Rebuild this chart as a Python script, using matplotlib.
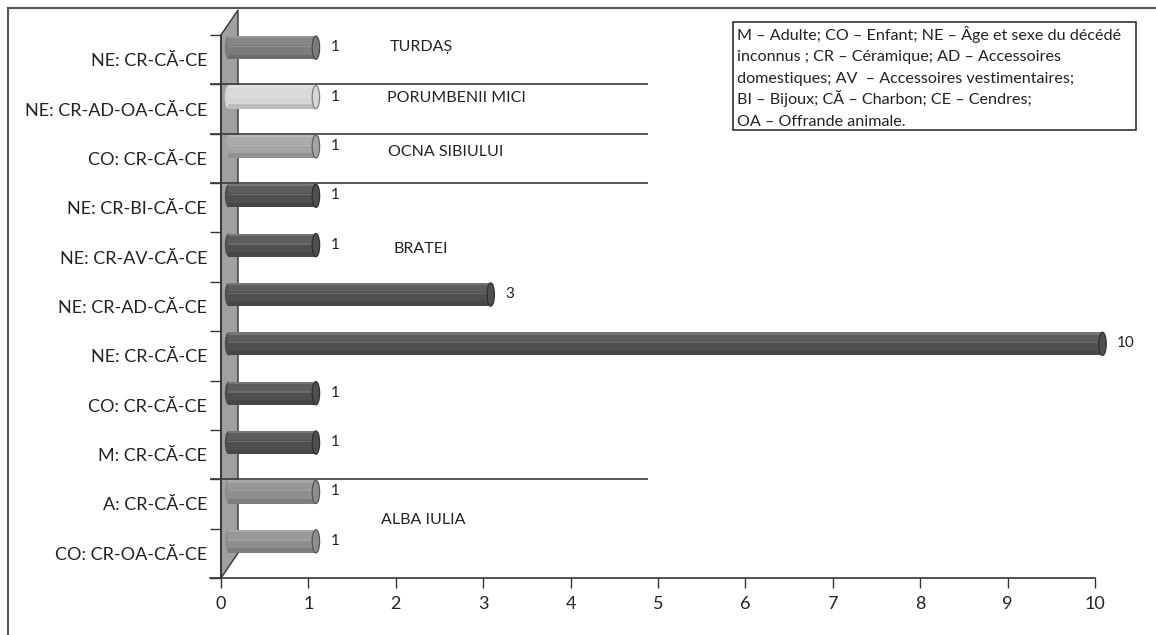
import numpy as np
import matplotlib
matplotlib.use("Agg")
import matplotlib.pyplot as plt
from matplotlib.patches import Ellipse, Polygon, Rectangle
from matplotlib.lines import Line2D
from matplotlib.transforms import ScaledTranslation
from matplotlib.colors import to_rgb

plt.rcParams["font.family"] = ["Lato", "DejaVu Sans"]

# categories, top to bottom
categories = ["NE: CR-CĂ-CE", "NE: CR-AD-OA-CĂ-CE", "CO: CR-CĂ-CE",
              "NE: CR-BI-CĂ-CE", "NE: CR-AV-CĂ-CE", "NE: CR-AD-CĂ-CE",
              "NE: CR-CĂ-CE", "CO: CR-CĂ-CE", "M: CR-CĂ-CE",
              "A: CR-CĂ-CE", "CO: CR-OA-CĂ-CE"]
values = [1, 1, 1, 1, 1, 3, 10, 1, 1, 1, 1]
site = ["TURDAȘ", "PORUMBENII MICI", "OCNA SIBIULUI",
        "BRATEI", "BRATEI", "BRATEI", "BRATEI", "BRATEI", "BRATEI",
        "ALBA IULIA", "ALBA IULIA"]

site_names = ["TURDAȘ", "PORUMBENII MICI", "OCNA SIBIULUI", "BRATEI", "ALBA IULIA"]
site_colors = ["#7c7c7c", "#d6d6d6", "#a4a4a4", "#4f4f4f", "#8e8e8e"]
site_label_x = [1.93, 1.90, 1.91, 1.97, 1.83]
site_label_y = [-0.26, 0.78, 1.87, 3.84, 9.33]
separators = [0.5, 1.5, 2.5, 8.5]

legend_lines = ["M – Adulte; CO – Enfant; NE – Âge et sexe du décédé",
                "inconnus ; CR – Céramique; AD – Accessoires",
                "domestiques; AV  – Accessoires vestimentaires;",
                "BI – Bijoux; CĂ – Charbon; CE – Cendres;",
                "OA – Offrande animale."]


def shade(c, f):
    r = np.array(to_rgb(c))
    if f >= 0:
        return tuple(r + (1 - r) * f)
    return tuple(r * (1 + f))


fig = plt.figure(figsize=(11.56, 6.35), dpi=100)
W, H = 1156, 635
ax = fig.add_axes([221 / W, 1 - 578 / H, 874 / W, 543 / H])
ax.set_xlim(0, 10)
ax.set_ylim(len(categories) - 0.5, -0.5)

# back wall (3D look)
dx, dy = 17 / 874, 25 / 543
wall = Polygon([(0, 0), (0, 1), (dx, 1 + dy), (dx, dy)], closed=True,
               transform=ax.transAxes, facecolor="#a0a0a0",
               edgecolor="#333333", lw=1.0, clip_on=False, zorder=1)
ax.add_patch(wall)

# axis lines
ax.plot([-11 / 874, 1], [0, 0], color="#333333", lw=1.2,
        transform=ax.transAxes, clip_on=False, zorder=2)
ax.plot([0, 0], [0, 1], color="#333333", lw=1.2,
        transform=ax.transAxes, clip_on=False, zorder=2)
for s in ax.spines.values():
    s.set_visible(False)

# separators between sites
ax.hlines(separators, -0.125, 4.89, color="#3a3a3a", lw=1.2, clip_on=False, zorder=2)

# cylinders
off = ax.transData + ScaledTranslation(0.075, 0.12, fig.dpi_scale_trans)
h = 0.47
cap_w = 0.085
y = np.arange(len(categories))
strips = [(0.0, 0.10, 0.22), (0.10, 0.30, 0.08), (0.42, 0.06, 0.16),
          (0.80, 0.20, -0.12)]
for yi, v, s in zip(y, values, site):
    c = site_colors[site_names.index(s)]
    top = yi - h / 2
    ax.barh(yi, v, height=h, color=c, transform=off, zorder=3, clip_on=False)
    for start, frac, f in strips:
        ax.barh(top + start * h, v, height=frac * h, color=shade(c, f),
                transform=off, zorder=3.1, align="edge", clip_on=False)
    ax.add_patch(Ellipse((0, yi), cap_w, h, facecolor=c, edgecolor="none",
                         transform=off, zorder=2.9, clip_on=False))
    ax.add_patch(Ellipse((v, yi), cap_w, h, facecolor=c,
                         edgecolor=shade(c, -0.4), lw=0.9,
                         transform=off, zorder=3.5, clip_on=False))
    ax.annotate(str(v), (v, yi), xytext=(16, 9),
                textcoords="offset points", va="center", ha="left",
                fontsize=11, color="#222222")

for name, lx, ly in zip(site_names, site_label_x, site_label_y):
    ax.text(lx, ly, name, fontsize=11.5, color="#222222", va="center", ha="left")

# ticks
ax.set_yticks(y)
ax.set_yticklabels(categories, fontsize=13, color="#222222")
ax.set_yticks(np.arange(-0.5, len(categories)), minor=True)
ax.tick_params(axis="y", which="major", length=0, pad=10)
ax.tick_params(axis="y", which="minor", length=8, width=1, color="#333333", direction="out")
ax.set_xticks(np.arange(0, 11))
ax.tick_params(axis="x", length=7, width=1, color="#333333", labelsize=13,
               labelcolor="#222222", pad=6)

# legend box
fig.add_artist(Rectangle((733 / W, 1 - 130 / H), (1136 - 733) / W, (130 - 22) / H,
                         transform=fig.transFigure, facecolor="white",
                         edgecolor="#333333", lw=1.2))
for i, line in enumerate(legend_lines):
    fig.text(737 / W, 1 - (40 + 21.4 * i) / H, line, fontsize=11.6,
             va="baseline", ha="left", color="#222222")

# outer frame (top and left only)
fig.add_artist(Line2D([8 / W, 8 / W], [0, 1 - 8 / H], transform=fig.transFigure,
                      color="#555555", lw=1.5))
fig.add_artist(Line2D([8 / W, 1], [1 - 8 / H, 1 - 8 / H], transform=fig.transFigure,
                      color="#555555", lw=1.5))

fig.savefig("out.png", dpi=100)
